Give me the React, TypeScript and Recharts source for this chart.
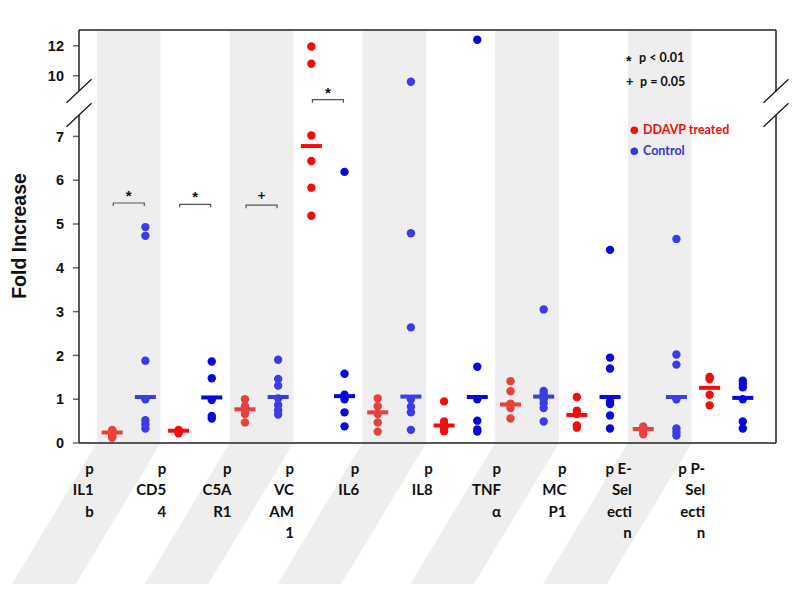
import { ScatterChart, Scatter, XAxis, YAxis, ReferenceArea } from 'recharts';

// markers measured, in chart order
const markers = ['IL1b', 'CD54', 'C5AR1', 'VCAM1', 'IL6', 'IL8', 'TNFα', 'MCP1', 'E-Selectin', 'P-Selectin'];
const tickLines = [
  ['p', 'IL1', 'b'],
  ['p', 'CD5', '4'],
  ['p', 'C5A', 'R1'],
  ['p', 'VC', 'AM', '1'],
  ['p', 'IL6'],
  ['p', 'IL8'],
  ['p', 'TNF', 'α'],
  ['p', 'MC', 'P1'],
  ['p E-', 'Sel', 'ecti', 'n'],
  ['p P-', 'Sel', 'ecti', 'n'],
];

// fold increase per subject
const ddavp = [
  [0.3, 0.27, 0.22, 0.18, 0.14, 0.12],
  [0.3, 0.25, 0.22],
  [1.0, 0.84, 0.78, 0.72, 0.66, 0.47],
  [11.95, 10.8, 7.02, 6.44, 5.83, 5.19],
  [1.02, 0.84, 0.66, 0.47, 0.26],
  [0.95, 0.49, 0.42, 0.36, 0.33, 0.27],
  [1.41, 1.18, 0.9, 0.8, 0.56],
  [1.05, 0.74, 0.66, 0.4, 0.35],
  [0.38, 0.33, 0.27, 0.2],
  [1.51, 1.46, 1.1, 0.86],
];
const ddavpMedian = [0.24, 0.28, 0.77, 6.78, 0.7, 0.4, 0.88, 0.64, 0.32, 1.26];

const control = [
  [4.93, 4.73, 1.88, 1.0, 0.52, 0.43, 0.33],
  [1.86, 1.48, 0.98, 0.62, 0.56],
  [1.9, 1.46, 1.31, 1.02, 0.87, 0.75, 0.65],
  [6.19, 1.58, 1.1, 1.0, 0.7, 0.38],
  [9.6, 4.79, 2.64, 1.0, 0.83, 0.7, 0.3],
  [12.4, 1.74, 1.0, 0.51, 0.31, 0.26],
  [3.05, 1.19, 1.12, 1.0, 0.91, 0.8, 0.49],
  [4.41, 1.95, 1.7, 0.95, 0.89, 0.63, 0.33],
  [4.66, 2.02, 1.79, 1.0, 0.33, 0.25, 0.17],
  [1.42, 1.35, 1.27, 1.0, 0.49, 0.33],
];
const controlMedian = [1.05, 1.04, 1.05, 1.07, 1.06, 1.05, 1.06, 1.05, 1.05, 1.03];

const sigMarkers = ['IL1b', 'CD54', 'C5AR1', 'VCAM1'];
const sigSymbols = ['*', '*', '+', '*'];
const sigLevels = [5.48, 5.45, 5.43, 8.4];

// broken axis: 0-7.5 linear, above that compressed
const BREAK = 7.5;
const UPPER_BASE = 4.961;
const UPPER_SCALE = 0.3425;
const toAxis = (v: number) => (v <= BREAK ? v : UPPER_BASE + UPPER_SCALE * v);
const fromAxis = (t: number) => (t <= BREAK ? t : (t - UPPER_BASE) / UPPER_SCALE);
const yTicks = [0, 1, 2, 3, 4, 5, 6, 7, toAxis(10), toAxis(12)];

const W = 800;
const H = 589;
const LEFT = 79;
const RIGHT = 776;
const TOP = 30;
const BOTTOM = 443;
const MARGIN_BOTTOM = 6;

const RED = ['#e8403f', '#f20d0d'];
const BLUE = ['#3b3be8', '#0808dc'];
const LABEL_NUDGE = [-35, -29, -30, -34, -35, -28, -26, -27, -28, -21];
const SANS = '"Liberation Sans", Arial, sans-serif';
const CAL = 'Lato, "Open Sans", sans-serif';

const posOf = (i: number, group: number) => 2 * i + group;

const toPoints = (rows: number[][], group: number) =>
  rows.flatMap((vals, i) => vals.map((v) => ({ x: posOf(i, group), y: toAxis(v), i })));
const toMedians = (vals: number[], group: number) =>
  vals.map((v, i) => ({ x: posOf(i, group), y: toAxis(v), i }));

const redPts = toPoints(ddavp, 0);
const bluePts = toPoints(control, 1);
const redMed = toMedians(ddavpMedian, 0);
const blueMed = toMedians(controlMedian, 1);
const sigPts = sigMarkers.map((m, k) => {
  const i = markers.indexOf(m);
  return { x: 2 * i + 0.5, y: toAxis(sigLevels[k]), s: sigSymbols[k] };
});

const dot = (palette: string[]) => (props: any) => {
  const { cx, cy, payload } = props;
  return <circle cx={cx} cy={cy} r={4.2} fill={palette[payload.i % 2]} />;
};
const bar = (palette: string[]) => (props: any) => {
  const { cx, cy, payload } = props;
  return <rect x={cx - 10.5} y={cy - 2} width={21} height={4} fill={palette[payload.i % 2]} />;
};
const bracket = (props: any) => {
  const { cx, cy, payload } = props;
  const star = payload.s === '*';
  return (
    <g>
      <path d={`M${cx - 15.5},${cy + 3}V${cy}H${cx + 15.5}V${cy + 3}`} stroke="#555" strokeWidth={1.2} fill="none" />
      <text
        x={cx}
        y={star ? cy - 2 : cy - 5}
        textAnchor="middle"
        fontFamily={star ? SANS : CAL}
        fontWeight="bold"
        fontSize={star ? 15 : 14}
        fill="#111"
      >
        {payload.s}
      </text>
    </g>
  );
};

const bandShape = (props: any) => {
  const { x, y, width, height } = props;
  const sh = 85;
  const yb = y + height;
  return (
    <path
      d={`M${x},${y}H${x + width}V${yb}L${x + width - sh},${H - 5}H${x - sh}L${x},${yb}Z`}
      fill="#eeeeee"
    />
  );
};

const XTick = (props: any) => {
  const { x, payload } = props;
  const i = Math.round((payload.value - 0.5) / 2);
  const lines = tickLines[i] || [];
  return (
    <g>
      {lines.map((l, k) => (
        <text key={k} x={x + LABEL_NUDGE[i]} y={BOTTOM + 31 + k * 21.4} textAnchor="end" fontFamily={CAL} fontWeight="bold" fontSize={15} fill="#111">
          {l}
        </text>
      ))}
    </g>
  );
};

// frame with axis breaks, axis title and key, drawn over the chart
function Overlay() {
  const stroke = '#222';
  const breakAt = (x: number) => (
    <g>
      <line x1={x - 12.5} y1={102.7} x2={x + 12.5} y2={79.3} stroke="#111" strokeWidth={1.2} />
      <line x1={x - 12.5} y1={126.7} x2={x + 12.5} y2={103.3} stroke="#111" strokeWidth={1.2} />
    </g>
  );
  return (
    <svg width={W} height={H} style={{ position: 'absolute', left: 0, top: 0, pointerEvents: 'none' }}>
      <line x1={LEFT} y1={TOP} x2={RIGHT} y2={TOP} stroke={stroke} strokeWidth={1.5} />
      <line x1={LEFT} y1={TOP} x2={LEFT} y2={91} stroke={stroke} strokeWidth={1.5} />
      <line x1={LEFT} y1={115} x2={LEFT} y2={BOTTOM} stroke={stroke} strokeWidth={1.5} />
      <line x1={RIGHT} y1={TOP} x2={RIGHT} y2={91} stroke={stroke} strokeWidth={1.5} />
      <line x1={RIGHT} y1={115} x2={RIGHT} y2={BOTTOM} stroke={stroke} strokeWidth={1.5} />
      {breakAt(LEFT)}
      {breakAt(RIGHT)}
      <text transform="translate(26,236) rotate(-90)" textAnchor="middle" fontFamily={SANS} fontWeight="bold" fontSize={19.5} fill="#111">
        Fold Increase
      </text>
      <g fontWeight="bold" fill="#111">
        <text x={626} y={66} fontFamily={SANS} fontSize={14}>*</text>
        <text x={639} y={62} fontFamily={CAL} fontSize={12.5}>p &lt; 0.01</text>
        <text x={626} y={86} fontFamily={CAL} fontSize={13}>+</text>
        <text x={640} y={86} fontFamily={CAL} fontSize={12.5}>p = 0.05</text>
      </g>
      <circle cx={634.3} cy={130.3} r={3.8} fill="#ee1111" />
      <text x={643} y={133.8} fontFamily={CAL} fontWeight="bold" fontSize={12.5} fill="#ee1111">DDAVP treated</text>
      <circle cx={634.3} cy={151.3} r={3.8} fill="#3535e0" />
      <text x={643} y={155} fontFamily={CAL} fontWeight="bold" fontSize={12.5} fill="#3535e0">Control</text>
    </svg>
  );
}

export default function App() {
  return (
    <div style={{ position: 'absolute', left: 0, top: 0, width: W, height: H, background: '#fff' }}>
      <ScatterChart width={W} height={H} margin={{ top: TOP, right: W - RIGHT, bottom: MARGIN_BOTTOM, left: 0 }}>
        {markers.map((m, i) =>
          i % 2 === 0 ? (
            <ReferenceArea key={m} x1={2 * i - 0.46} x2={2 * i + 1.46} ifOverflow="visible" shape={bandShape} />
          ) : null
        )}
        <XAxis
          type="number"
          dataKey="x"
          domain={[-1, 20]}
          ticks={markers.map((_, i) => 2 * i + 0.5)}
          interval={0}
          tick={<XTick />}
          tickLine={false}
          axisLine={{ stroke: '#222', strokeWidth: 1.5 }}
          height={H - MARGIN_BOTTOM - BOTTOM}
        />
        <YAxis
          type="number"
          dataKey="y"
          domain={[0, 9.43]}
          ticks={yTicks}
          interval={0}
          width={LEFT}
          axisLine={false}
          tickSize={6}
          tickMargin={9}
          tickLine={{ stroke: '#666', strokeWidth: 1.5 }}
          tickFormatter={(t: number) => String(Math.round(fromAxis(t)))}
          tick={{ fontFamily: SANS, fontWeight: 'bold', fontSize: 14.5, fill: '#111' }}
        />
        <Scatter name="DDAVP treated" data={redPts} shape={dot(RED)} isAnimationActive={false} />
        <Scatter name="Control" data={bluePts} shape={dot(BLUE)} isAnimationActive={false} />
        <Scatter name="DDAVP median" data={redMed} shape={bar(RED)} isAnimationActive={false} />
        <Scatter name="Control median" data={blueMed} shape={bar(BLUE)} isAnimationActive={false} />
        <Scatter name="significance" data={sigPts} shape={bracket} isAnimationActive={false} />
      </ScatterChart>
      <Overlay />
    </div>
  );
}
